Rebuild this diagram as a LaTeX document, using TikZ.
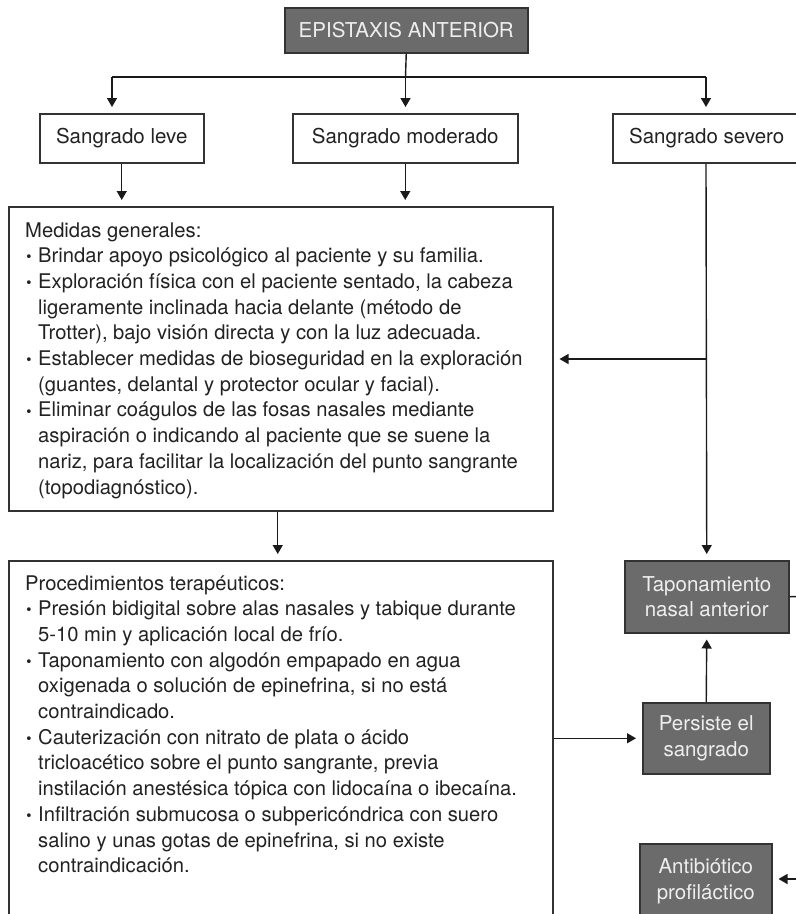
\documentclass[tikz,border=0pt]{standalone}
\usepackage{fontspec}
\setmainfont{TeX Gyre Heros}
\newfontfamily\bulletfont{DejaVu Sans}
\usetikzlibrary{arrows.meta,shadows}

\definecolor{boxline}{HTML}{333333}
\definecolor{darkfill}{HTML}{6B6B6B}
\definecolor{darktext}{HTML}{EEEEEE}
\definecolor{ink}{HTML}{222222}
\definecolor{wire}{HTML}{1A1A1A}

% bullet and continuation indent for the list lines
\newcommand\itm{\makebox[13pt][l]{\raisebox{0.8pt}{\bulletfont\fontsize{13}{13}\selectfont •}}}
\newcommand\cnt{\hspace*{13pt}}

\begin{document}
\begin{tikzpicture}[x=1pt,y=-1pt,
  every node/.style={font=\fontsize{20.5}{25.7}\selectfont},
  boxbase/.style={line width=1.5pt,inner sep=0pt,anchor=north west,
    drop shadow={shadow xshift=1.6pt,shadow yshift=-1.6pt,opacity=0.22}},
  whitebox/.style={boxbase,draw=boxline,fill=white,text=ink},
  darkbox/.style={boxbase,draw=boxline,fill=darkfill,text=darktext,align=center},
  listtext/.style={anchor=base west,inner sep=0pt,text=ink,font=\fontsize{20.2}{25.7}\selectfont},
  wireline/.style={draw=wire,line width=1.4pt},
  wirearrow/.style={wireline,-{Triangle[length=9pt,width=10pt]},shorten >=6pt}
]
\useasboundingbox (0,0) rectangle (796,914);
\clip (0,0) rectangle (796,914);

% boxes
\node[darkbox,minimum width=243,minimum height=45] (top) at (284,7) {EPISTAXIS ANTERIOR};
\node[whitebox,minimum width=164,minimum height=49] (leve) at (39,113) {Sangrado leve};
\node[whitebox,minimum width=225,minimum height=49] (moder) at (292,113) {Sangrado moderado};
\node[whitebox,minimum width=188,minimum height=49] (severo) at (612,113) {Sangrado severo};
\node[whitebox,minimum width=544,minimum height=304] (medidas) at (8,206) {};
\node[whitebox,minimum width=544,minimum height=358] (proced) at (8,560) {};
\node[darkbox,minimum width=164,minimum height=72] (tapon) at (624,560)
  {Taponamiento\\nasal anterior};
\node[darkbox,minimum width=127,minimum height=71] (persiste) at (642,702)
  {Persiste el\\sangrado};
\node[darkbox,minimum width=132,minimum height=75] (antib) at (639,843)
  {Antibiótico\\profiláctico};

% list texts
\node[listtext] (medidastxt) at (25,237) {\parbox[t]{520pt}{\raggedright
Medidas generales:\\
\itm Brindar apoyo psicológico al paciente y su familia.\\
\itm Exploración física con el paciente sentado, la cabeza\\
\cnt ligeramente inclinada hacia delante (método de\\
\cnt Trotter), bajo visión directa y con la luz adecuada.\\
\itm Establecer medidas de bioseguridad en la exploración\\
\cnt (guantes, delantal y protector ocular y facial).\\
\itm Eliminar coágulos de las fosas nasales mediante\\
\cnt aspiración o indicando al paciente que se suene la\\
\cnt nariz, para facilitar la localización del punto sangrante\\
\cnt (topodiagnóstico).}};

\node[listtext] (procedtxt) at (25,590) {\parbox[t]{520pt}{\raggedright
Procedimientos terapéuticos:\\
\itm Presión bidigital sobre alas nasales y tabique durante\\
\cnt 5-10 min y aplicación local de frío.\\
\itm Taponamiento con algodón empapado en agua\\
\cnt oxigenada o solución de epinefrina, si no está\\
\cnt contraindicado.\\
\itm Cauterización con nitrato de plata o ácido\\
\cnt tricloacético sobre el punto sangrante, previa\\
\cnt instilación anestésica tópica con lidocaína o ibecaína.\\
\itm Infiltración submucosa o subpericóndrica con suero\\
\cnt salino y unas gotas de epinefrina, si no existe\\
\cnt contraindicación.}};

% junction points and free ends
\coordinate (hl) at (112,77);
\coordinate (hm) at (405.5,77);
\coordinate (hr) at (706,77);
\coordinate (br) at (706,359);
\coordinate (tout) at (812,596);
\coordinate (ain) at (812,879);

% connectors
\draw[wireline] (top.south) -- (hm);
\draw[wireline] (hl) -- (hr);
\draw[wirearrow] (hl) -- (hl |- leve.north);
\draw[wirearrow] (hm) -- (hm |- moder.north);
\draw[wirearrow] (hr) -- (severo.north -| hr);
\draw[wirearrow] (leve.south) -- (leve.south |- medidas.north);
\draw[wirearrow] (moder.south) -- (moder.south |- medidas.north);
\draw[wirearrow] (severo.south -| hr) -- (tapon.north);
\draw[wirearrow] (br) -- (br -| medidas.east);
\draw[wirearrow] ([xshift=-3pt]medidas.south) -- ([xshift=-3pt]proced.north);
\draw[wirearrow] (persiste.north) -- (tapon.south);
\draw[wirearrow] (proced.east |- persiste.west) -- (persiste.west);
\draw[wireline] (tapon.east) -- (tout);
\draw[wirearrow] (ain) -- (antib.east |- ain);
\end{tikzpicture}
\end{document}
